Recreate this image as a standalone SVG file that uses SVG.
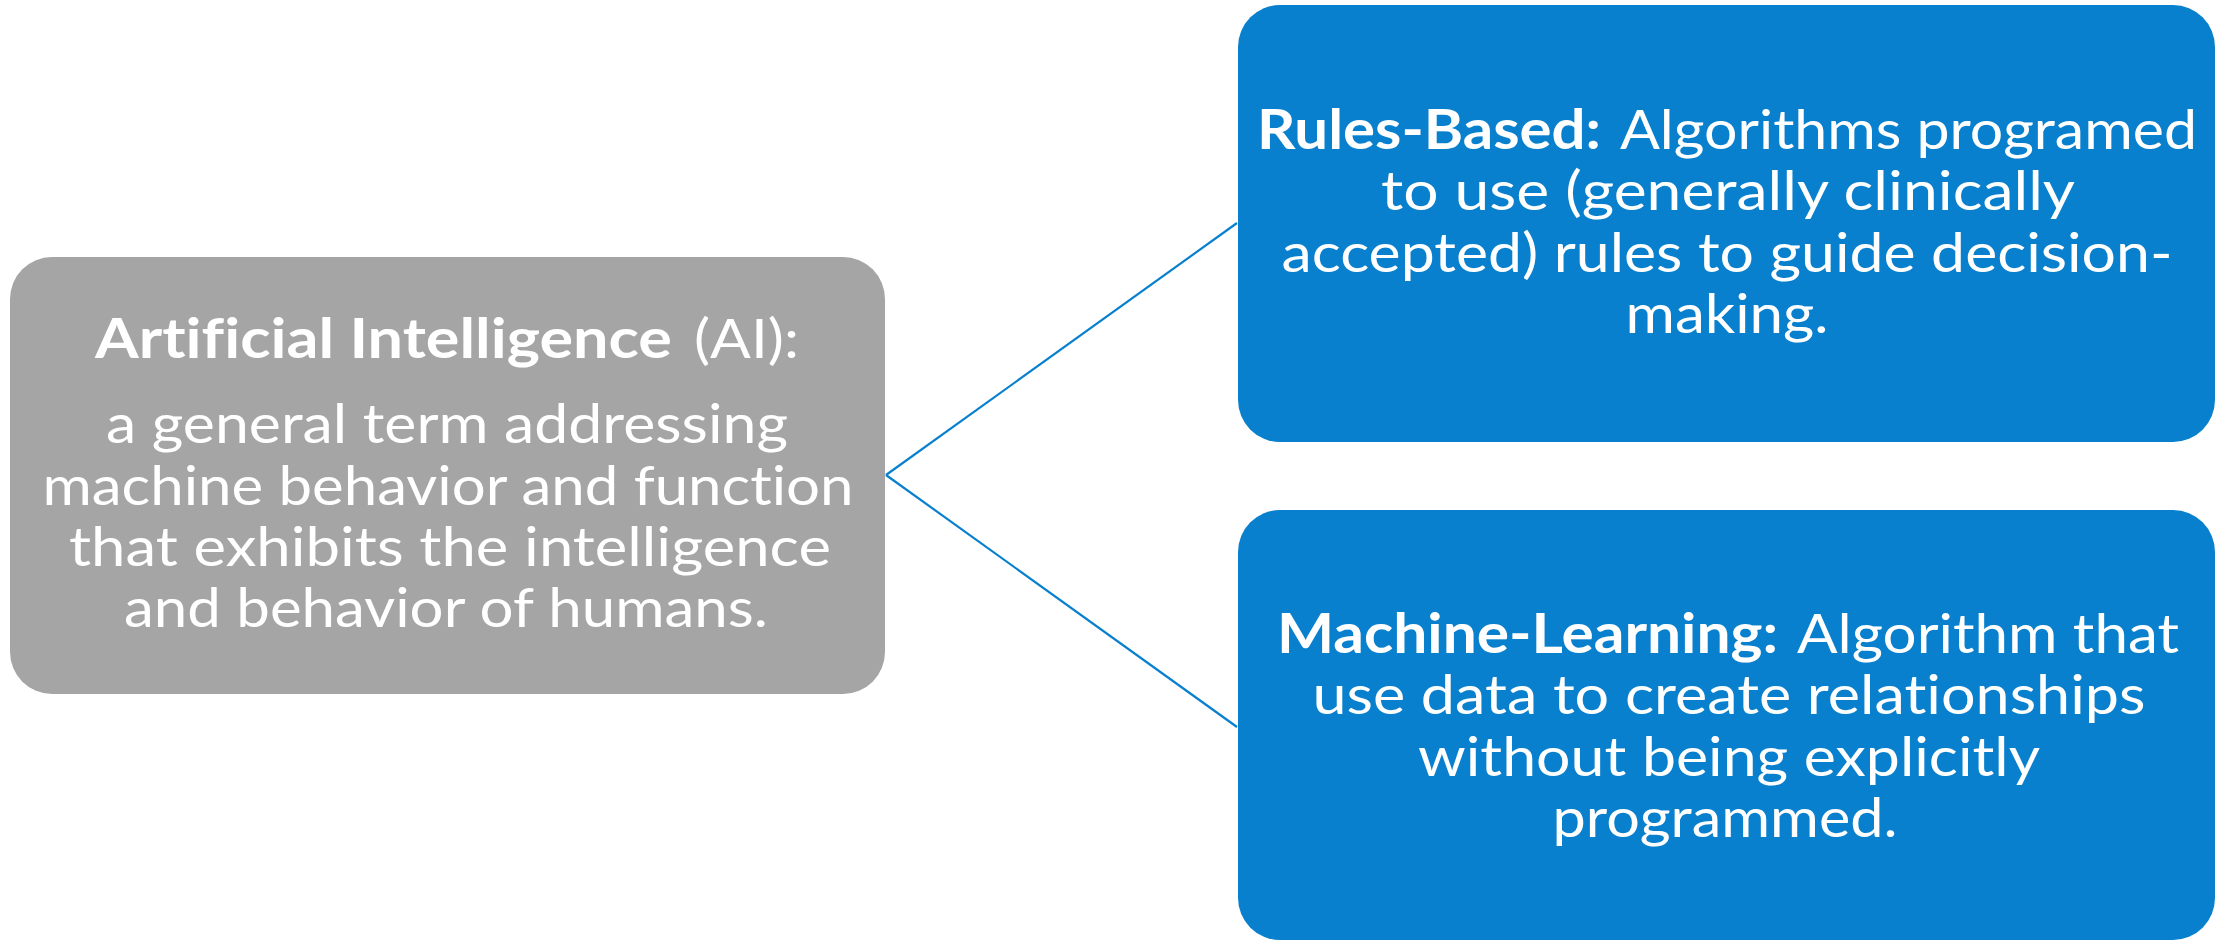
<svg xmlns="http://www.w3.org/2000/svg" width="2227" height="943" viewBox="0 0 2227 943">
  <style>
    .box-gray { fill: #A5A5A5; }
    .box-blue { fill: #0880CE; }
    .label { font-family: Lato, "Liberation Sans", sans-serif; font-size: 55px; fill: #FFFFFF; text-anchor: middle; font-variant-ligatures: none; }
    .start { text-anchor: start; }
    .b { font-weight: bold; }
    .link { stroke: #0880CE; stroke-width: 2.2; fill: none; }
  </style>
  <rect width="2227" height="943" fill="#FFFFFF"/>

  <!-- connectors from the AI box to its two branches -->
  <g id="connectors">
    <line class="link" x1="886" y1="475" x2="1237" y2="223"/>
    <line class="link" x1="886" y1="475" x2="1237" y2="727"/>
  </g>

  <g id="node-ai">
    <rect class="box-gray" x="10" y="257" width="875" height="437" rx="42" ry="42"/>
    <text class="label start b" x="95" y="358" textLength="577" lengthAdjust="spacingAndGlyphs">Artificial Intelligence</text>
    <text class="label start" x="694" y="358" textLength="105" lengthAdjust="spacingAndGlyphs">(AI):</text>
    <text class="label" x="447" y="443" textLength="682" lengthAdjust="spacingAndGlyphs">a general term addressing</text>
    <text class="label" x="448" y="505" textLength="811" lengthAdjust="spacingAndGlyphs">machine behavior and function</text>
    <text class="label" x="450" y="566" textLength="762" lengthAdjust="spacingAndGlyphs">that exhibits the intelligence</text>
    <text class="label" x="446" y="627" textLength="644" lengthAdjust="spacingAndGlyphs">and behavior of humans.</text>
  </g>

  <g id="node-rules">
    <rect class="box-blue" x="1238" y="5" width="977" height="437" rx="42" ry="42"/>
    <text class="label start b" x="1257" y="149" textLength="344" lengthAdjust="spacingAndGlyphs">Rules-Based:</text>
    <text class="label start" x="1620" y="149" textLength="577" lengthAdjust="spacingAndGlyphs">Algorithms programed</text>
    <text class="label" x="1728" y="210" textLength="694" lengthAdjust="spacingAndGlyphs">to use (generally clinically</text>
    <text class="label" x="1727" y="272" textLength="891" lengthAdjust="spacingAndGlyphs">accepted) rules to guide decision-</text>
    <text class="label" x="1727" y="333" textLength="203" lengthAdjust="spacingAndGlyphs">making.</text>
  </g>

  <g id="node-ml">
    <rect class="box-blue" x="1238" y="510" width="977" height="430" rx="42" ry="42"/>
    <text class="label start b" x="1277" y="653" textLength="501" lengthAdjust="spacingAndGlyphs">Machine-Learning:</text>
    <text class="label start" x="1797" y="653" textLength="382" lengthAdjust="spacingAndGlyphs">Algorithm that</text>
    <text class="label" x="1729" y="714" textLength="833" lengthAdjust="spacingAndGlyphs">use data to create relationships</text>
    <text class="label" x="1729" y="776" textLength="622" lengthAdjust="spacingAndGlyphs">without being explicitly</text>
    <text class="label" x="1725" y="837" textLength="345" lengthAdjust="spacingAndGlyphs">programmed.</text>
  </g>
</svg>
